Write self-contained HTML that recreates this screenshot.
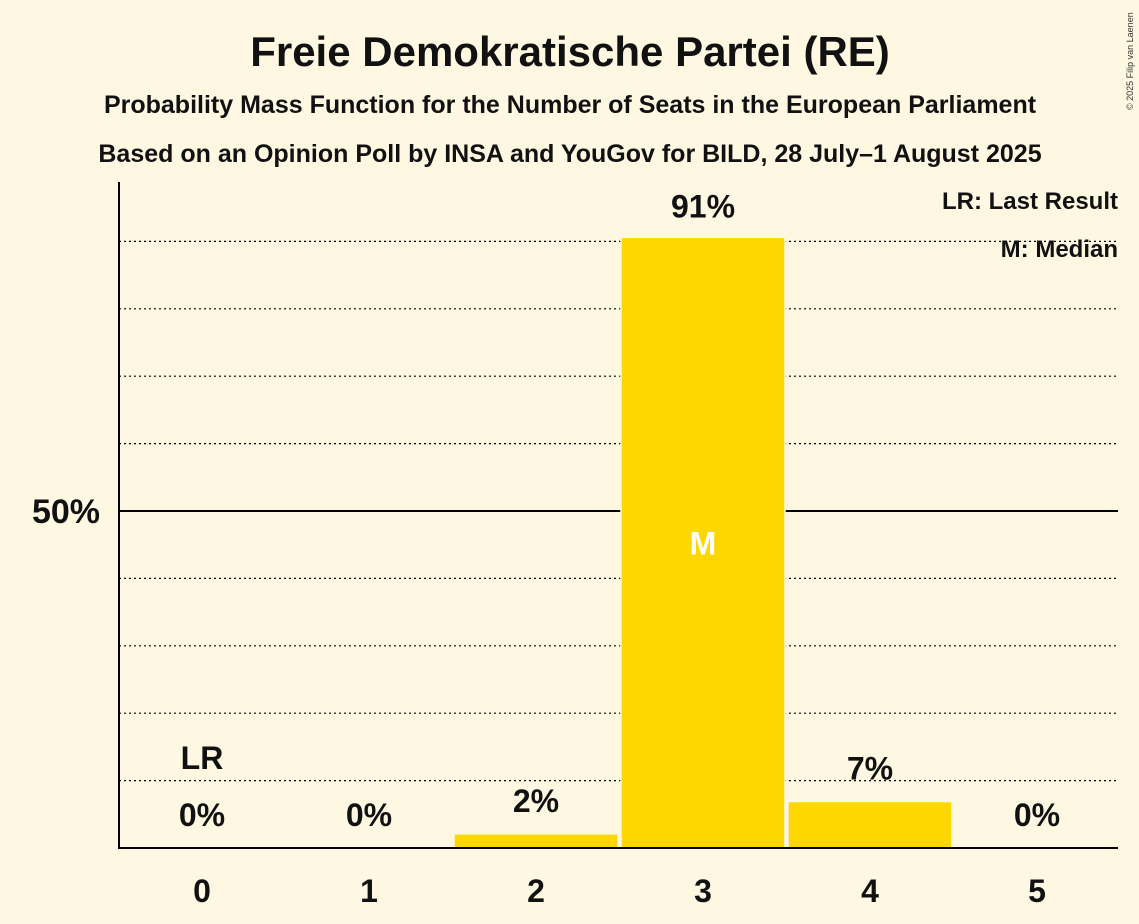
<!DOCTYPE html>
<html><head><meta charset="utf-8"><style>
body{margin:0;background:#fef8e2;}
svg{display:block;font-family:"Liberation Sans",sans-serif;}
</style></head><body>
<svg width="1139" height="924" viewBox="0 0 1139 924">
<rect width="1139" height="924" fill="#fef8e2"/>
<text x="570" y="66" text-anchor="middle" font-size="42" font-weight="bold" fill="#111">Freie Demokratische Partei (RE)</text>
<text x="570" y="113" text-anchor="middle" font-size="25" font-weight="bold" fill="#111">Probability Mass Function for the Number of Seats in the European Parliament</text>
<text x="570" y="162" text-anchor="middle" font-size="25" font-weight="bold" fill="#111">Based on an Opinion Poll by INSA and YouGov for BILD, 28 July–1 August 2025</text>
<text x="1133" y="110" font-size="9" fill="#333" transform="rotate(-90 1133 110)">© 2025 Filip van Laenen</text>
<g id="grid"></g>
<g id="bars"></g>
<line x1="119" y1="182" x2="119" y2="848" stroke="#000" stroke-width="2"/>
<line x1="118" y1="848" x2="1118" y2="848" stroke="#000" stroke-width="2"/>
<text x="1118" y="209" text-anchor="end" font-size="24" font-weight="bold" fill="#111">LR: Last Result</text>
<text x="1118" y="257" text-anchor="end" font-size="24" font-weight="bold" fill="#111">M: Median</text>
<g id="labels"></g>
</svg>
<script>
const seats=[0,1,2,3,4,5];
const probs=[0,0,2.1,90.6,6.9,0];
const probLabels=["0%","0%","2%","91%","7%","0%"];
const lastResult=0;
const median=3;
const gridTicks=[10,20,30,40,60,70,80,90];
const NS="http://www.w3.org/2000/svg";
const y0=848,pxPer=6.74,x0=202,step=167,bw=164;
const y=v=>y0-v*pxPer, x=i=>x0+i*step;
function mk(t,a,p,txt){const e=document.createElementNS(NS,t);for(const k in a)e.setAttribute(k,a[k]);if(txt!=null)e.textContent=txt;p.appendChild(e);return e;}
const g=document.getElementById('grid'),b=document.getElementById('bars'),l=document.getElementById('labels');
gridTicks.forEach(t=>{const e=mk('line',{x1:119,x2:1118,y1:y(t),y2:y(t),stroke:'#000','stroke-width':1.2,'stroke-dasharray':'2,3'},g);

});
const fl=mk('line',{x1:119,x2:1118,y1:y(50),y2:y(50),stroke:'#000','stroke-width':2},g);


const yl=mk('text',{x:100,y:y(50)+12,'text-anchor':'end','font-size':34,'font-weight':'bold',fill:'#111'},l,'50%');


seats.forEach((s,i)=>{
 const cx=x(i);
 if(probs[i]>0){const r=mk('rect',{x:cx-bw/2,y:y(probs[i]),width:bw,height:y0-y(probs[i]),fill:'#ffd700',stroke:'#fef8e2','stroke-width':1.5},b);
 
 }
 const top=probs[i]>0?y(probs[i]):y0;
 const inside=probs[i]>15;
 const ly=Math.min(top-22,828);
 const vl=mk('text',{x:cx,y:inside?top-20:ly,'text-anchor':'middle','font-size':32,'font-weight':'bold',fill:'#111'},l,probLabels[i]);
 
 
 const xl=mk('text',{x:cx,y:902,'text-anchor':'middle','font-size':32,'font-weight':'bold',fill:'#111'},l,String(s));
 
 
 if(s===lastResult){const lr=mk('text',{x:cx,y:ly-57,'text-anchor':'middle','font-size':32,'font-weight':'bold',fill:'#111'},l,'LR');
 
 }
 if(s===median){const m=mk('text',{x:cx,y:y(probs[i]/2)+12,'text-anchor':'middle','font-size':32,'font-weight':'bold',fill:'#fff'},l,'M');
 
 }
});
</script>
</body></html>
